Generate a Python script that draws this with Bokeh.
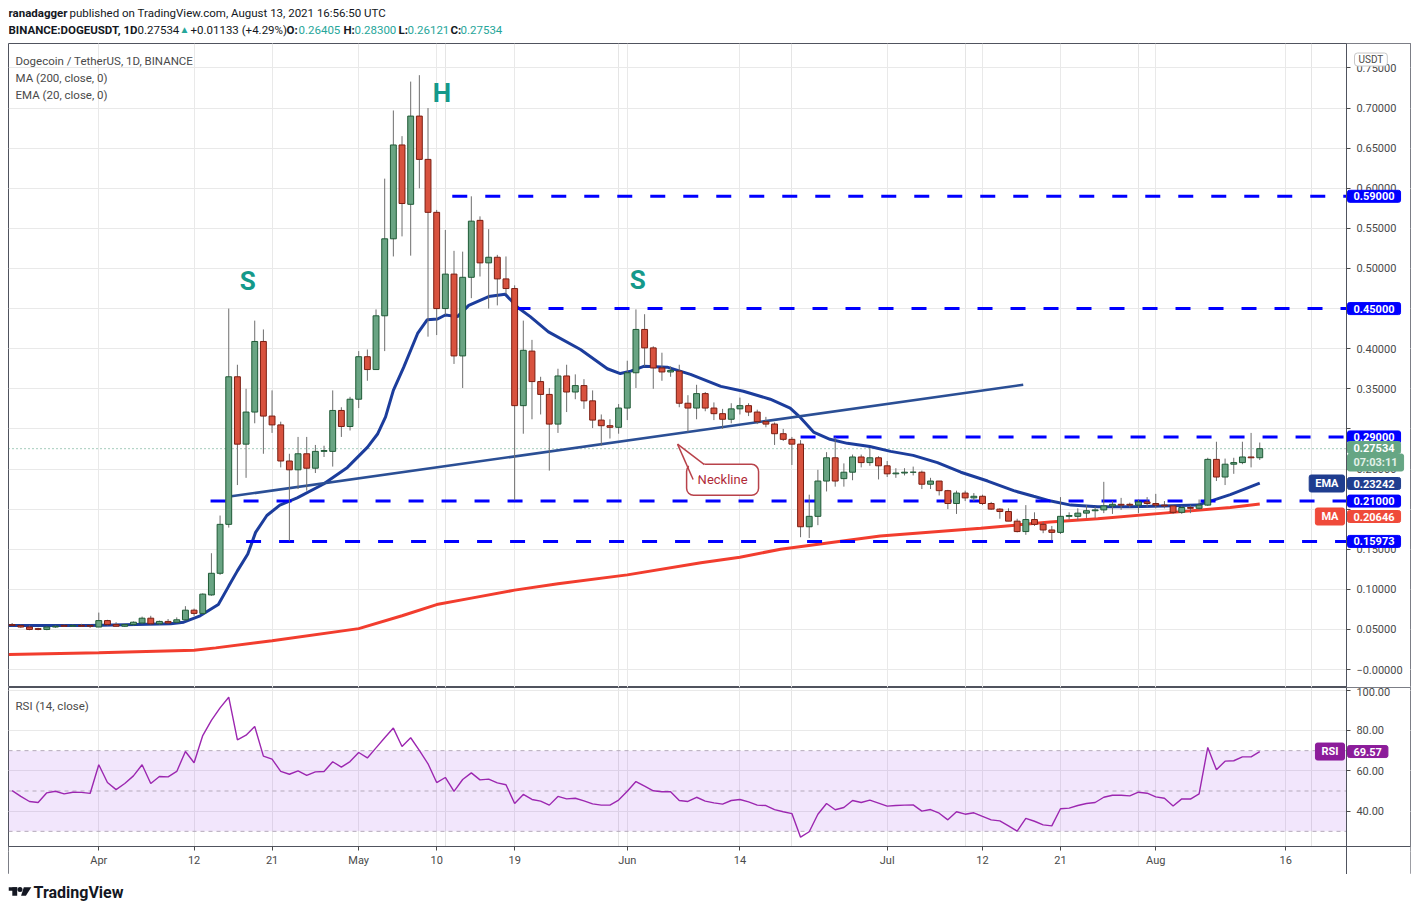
import pandas as pd
from bokeh.plotting import figure
from bokeh.layouts import column
from bokeh.models import (Range1d, FixedTicker, Label, BoxAnnotation, PolyAnnotation,
                          Arrow, ColumnDataSource, Grid, LinearAxis, CustomJSTickFormatter)
from bokeh.embed import file_html
from bokeh.resources import INLINE
from bokeh.core.properties import value

# ---------------- data ----------------
first_date = "2021-03-22"
last_date = "2021-08-13"
ref_date = "2021-04-01"          # day index 0

opens = [
    .056, .055, .053, .051, .050, .053, .055, .054, .055, .055,
    .053, .061, .056, .054, .056, .058, .064, .057, .060, .059,
    .062, .074, .070, .093, .120, .181, .365, .281, .321, .409,
    .316, .305, .260, .249, .269, .251, .272, .272, .323, .303,
    .337, .390, .374, .441, .537, .654, .580, .690, .636, .570,
    .450, .493, .391, .489, .560, .507, .514, .487, .475, .329,
    .397, .359, .343, .306, .366, .346, .354, .335, .311, .304,
    .302, .326, .370, .424, .401, .376, .371, .372, .332, .326,
    .344, .326, .319, .312, .325, .329, .321, .309, .306, .294,
    .287, .281, .178, .191, .235, .264, .238, .246, .265, .258,
    .264, .254, .244, .245, .246, .246, .231, .235, .223, .207,
    .220, .214, .216, .207, .200, .197, .185, .172, .187, .181,
    .174, .171, .191, .191, .195, .198, .199, .204, .206, .206,
    .205, .209, .207, .205, .204, .196, .202, .201, .205, .262,
    .240, .256, .258, .265, .26405]
highs = [
    .058, .056, .055, .052, .054, .055, .056, .056, .057, .056,
    .071, .062, .059, .057, .060, .066, .067, .061, .063, .065,
    .079, .076, .095, .145, .192, .450, .380, .350, .435, .424,
    .348, .309, .269, .290, .290, .280, .279, .348, .327, .340,
    .397, .399, .449, .612, .697, .665, .733, .741, .700, .573,
    .548, .522, .521, .590, .565, .549, .517, .515, .479, .435,
    .411, .365, .351, .375, .380, .368, .362, .348, .318, .312,
    .331, .385, .449, .443, .403, .395, .378, .380, .342, .355,
    .346, .333, .325, .332, .339, .332, .324, .315, .308, .300,
    .290, .286, .218, .249, .271, .290, .257, .268, .268, .276,
    .266, .260, .251, .251, .253, .248, .239, .235, .224, .223,
    .223, .220, .218, .209, .201, .201, .188, .205, .196, .184,
    .179, .215, .196, .201, .205, .203, .234, .210, .214, .208,
    .212, .215, .219, .210, .205, .204, .205, .212, .264, .284,
    .263, .264, .284, .295, .283]
lows = [
    .054, .052, .049, .049, .049, .052, .053, .053, .053, .052,
    .053, .055, .054, .053, .055, .057, .056, .056, .057, .058,
    .061, .067, .069, .092, .118, .177, .230, .239, .307, .269,
    .295, .252, .160, .225, .223, .245, .265, .253, .290, .298,
    .326, .360, .374, .397, .515, .540, .516, .600, .415, .417,
    .442, .381, .351, .463, .490, .450, .454, .468, .211, .294,
    .312, .318, .248, .295, .321, .337, .325, .301, .279, .288,
    .294, .311, .351, .378, .350, .360, .365, .327, .296, .312,
    .322, .311, .300, .307, .318, .316, .306, .302, .280, .285,
    .255, .165, .164, .180, .222, .228, .228, .236, .252, .254,
    .237, .240, .239, .242, .242, .225, .225, .217, .200, .194,
    .210, .210, .205, .199, .188, .185, .171, .168, .179, .170,
    .161, .169, .187, .186, .189, .189, .195, .194, .199, .202,
    .195, .203, .201, .201, .194, .194, .195, .199, .204, .235,
    .230, .244, .256, .252, .26121]
closes = [
    .055, .053, .050, .050, .053, .054, .054, .055, .054, .054,
    .061, .056, .054, .056, .059, .064, .057, .060, .058, .062,
    .074, .070, .094, .120, .181, .365, .281, .321, .409, .316,
    .305, .260, .249, .269, .251, .272, .273, .323, .303, .337,
    .390, .374, .441, .537, .654, .581, .690, .636, .570, .450,
    .493, .391, .489, .559, .507, .514, .487, .475, .329, .398,
    .359, .343, .306, .366, .346, .354, .335, .311, .304, .302,
    .326, .370, .424, .401, .376, .371, .373, .332, .326, .344,
    .326, .319, .312, .325, .329, .321, .309, .306, .294, .287,
    .281, .178, .191, .235, .264, .235, .246, .265, .258, .264,
    .254, .244, .245, .246, .246, .231, .235, .223, .207, .220,
    .214, .216, .207, .200, .197, .185, .172, .187, .181, .174,
    .171, .191, .192, .195, .198, .199, .204, .206, .205, .205,
    .209, .207, .205, .204, .196, .202, .201, .205, .262, .240,
    .256, .258, .265, .264, .27534]
rsi = [
    50.2, 47.3, 44.8, 44.3, 49.1, 49.9, 48.6, 49.4, 49.3, 48.8,
    63.0, 54.2, 50.7, 53.7, 57.5, 63.0, 53.7, 57.2, 57.0, 59.7,
    69.6, 64.0, 77.5, 85.0, 91.2, 96.5, 75.4, 77.7, 82.0, 67.3,
    65.8, 59.7, 58.3, 60.0, 57.7, 59.5, 59.7, 64.5, 61.8, 64.6,
    69.1, 66.4, 71.4, 76.4, 81.2, 72.1, 76.4, 70.1, 63.5, 54.2,
    56.7, 49.8, 55.7, 59.0, 55.5, 55.9, 54.0, 53.1, 43.8, 48.3,
    45.8, 45.0, 43.0, 47.3, 46.1, 46.4, 45.1, 43.6, 43.0, 43.0,
    45.5, 49.9, 54.7, 52.4, 50.1, 49.6, 49.6, 45.3, 44.8, 46.9,
    45.0, 44.1, 43.5, 45.3, 45.8, 44.6, 43.0, 42.8, 40.8, 39.7,
    38.8, 27.1, 29.8, 38.5, 43.8, 40.7, 41.8, 45.3, 44.3, 45.5,
    44.0, 42.5, 42.8, 43.0, 43.1, 40.0, 40.8, 39.0, 35.7, 39.7,
    38.5, 39.2, 37.4, 35.7, 35.2, 32.7, 30.1, 36.4, 35.0, 33.2,
    32.7, 41.2, 41.5, 42.8, 43.8, 44.3, 46.9, 47.9, 47.9, 47.6,
    49.4, 48.9, 47.1, 46.4, 42.6, 46.1, 46.0, 48.6, 71.6, 60.5,
    64.8, 65.0, 66.9, 66.9, 69.57]

ema_day = [-10.4, -1, 8.3, 9.8, 11.7, 13.8, 15, 16, 17.2, 18.1,
           19.4, 20.9, 22.9, 25.9, 28.7, 31, 32.2, 33.1, 34, 35.2,
           36.8, 37.9, 39.1, 40, 41.4, 42.7, 45, 46.9, 48.4, 49.8,
           51.9, 55.6, 58.7, 60.2, 61.4, 62.9, 65.6, 68.3, 71.8, 74.4,
           77.5, 79.8, 81, 82.5, 84.4, 86.4, 89, 91.4, 94, 96.8,
           99.5, 102.6, 105.6, 107.9, 109.9, 112.2, 115.3, 119.1, 122.9, 126.8,
           128.3, 130.6, 134]
ema_val = [.055, .055, .057, .059, .067, .081, .104, .123, .144, .171,
           .192, .205, .214, .231, .252, .277, .294, .315, .348, .377,
           .419, .436, .437, .442, .440, .454, .465, .468, .451, .440,
           .421, .399, .375, .369, .372, .378, .377, .368, .353, .347,
           .337, .326, .314, .296, .287, .282, .278, .272, .267, .258,
           .246, .235, .223, .216, .210, .205, .203, .203, .204, .205,
           .210, .218, .23242]
ma_day = [-10.4, 0, 11, 13.5, 20, 30, 35, 39, 43, 48, 53, 61, 69.5, 74, 78.7,
          90.2, 101.8, 109.8, 115.3, 122.9, 130.6, 134]
ma_val = [.0187, .021, .024, .027, .036, .051, .067, .081, .089, .099, .107, .118, .133, .140, .150,
          .1665, .176, .184, .188, .195, .202, .20646]

level_price = [0.59, 0.45, 0.29, 0.21, 0.15973]
level_start = [40.8, 48.1, 81.0, 12.9, 17.0]
neck_day = [15.3, 106.7]
neck_price = [0.216, 0.355]

pattern_text = ["S", "H", "S"]
pattern_day = [17.2, 39.6, 62.2]
pattern_price = [0.485, 0.719, 0.486]

tick_days = [0, 11, 20, 30, 39, 48, 61, 74, 91, 102, 111, 122, 137]
tick_labels = ["Apr", "12", "21", "May", "10", "19", "Jun", "14", "Jul", "12", "21", "Aug", "16"]
price_ticks = [round(i * 0.05, 2) for i in range(16)]
hidden_price_labels = [0.30, 0.20]     # covered by price tags in the reference
rsi_ticks = [40, 60, 80, 100]
rsi_band = (30, 70)
rsi_levels = [30, 50, 70]

last_price = 0.27534
last_ema = 0.23242
last_ma = 0.20646
last_rsi = 69.57

# ---------------- styling ----------------
FONT = "Roboto"
TXT = "#131722"
AXC = "#4a4a4a"
GRID = "#e9e9e9"
FRAME = "#50535e"
GREEN = "#69a483"; GREEN_E = "#1f5a36"
RED = "#d8523e"; RED_E = "#7b1e12"
WICK = "#6e6e6e"
BLUE = "#0000ff"
EMA_C = "#1c3d9c"
MA_C = "#f23d2e"
NECK_C = "#2b4f95"
TEAL = "#26a69a"
PURPLE = "#9c27b0"

dates = pd.date_range(first_date, last_date, freq="D")
day = list((dates - pd.Timestamp(ref_date)).days)
inc = [c >= o for o, c in zip(opens, closes)]
src = ColumnDataSource(dict(
    x=day, o=opens, h=highs, l=lows, c=closes,
    top=[max(o, c) for o, c in zip(opens, closes)],
    bot=[min(o, c) for o, c in zip(opens, closes)],
    fill=[GREEN if i else RED for i in inc],
    edge=[GREEN_E if i else RED_E for i in inc],
))

# x scale: 8.664 px per day; frame from page x 8 to 1410; price axis at page x 1346
X0, X_AX, X_END = -10.42, 144.0, 151.40
xr = Range1d(X0, X_END)
W = 1412


def style_axis(ax, standoff):
    ax.axis_line_color = FRAME
    ax.major_tick_line_color = AXC
    ax.major_tick_out = 4
    ax.major_tick_in = 0
    ax.minor_tick_out = 0
    ax.minor_tick_in = 0
    ax.major_label_text_font = FONT
    ax.major_label_text_font_size = "11px"
    ax.major_label_text_color = AXC
    ax.major_label_standoff = standoff


def base_fig(height, yr, x_range=xr, outline=FRAME):
    return figure(width=W, height=height, x_range=x_range, y_range=yr, output_backend="svg",
                  toolbar_location=None, x_axis_location=None, y_axis_location=None,
                  min_border_left=8, min_border_right=2, min_border_top=0, min_border_bottom=0,
                  background_fill_color="white", border_fill_color="white",
                  outline_line_color=outline)


# ---------------- header strip (page-pixel coordinates) ----------------
h0 = base_fig(43, Range1d(43, 0), x_range=Range1d(8, 1410), outline=None)
h0.grid.visible = False


def htext(fig, x, y, t, color=TXT, bold=False, size="11.5px"):
    fig.text(x=[x], y=[y], text=[t], text_font=value(FONT), text_font_size=size,
             text_color=color, text_font_style="bold" if bold else "normal",
             text_align="left", text_baseline="middle")


htext(h0, 8, 12, "ranadagger", bold=True)
htext(h0, 69, 12, "published on TradingView.com, August 13, 2021 16:56:50 UTC")
htext(h0, 8, 29, "BINANCE:DOGEUSDT, 1D", bold=True)
htext(h0, 137, 29, "0.27534")
htext(h0, 179, 29, "\u25b2", color=TEAL, size="10px")
htext(h0, 190, 29, "+0.01133 (+4.29%)")
for xp, k, xv, v in [(286, "O:", 298, "0.26405"), (343, "H:", 354, "0.28300"),
                     (398, "L:", 407, "0.26121"), (450, "C:", 460, "0.27534")]:
    htext(h0, xp, 29, k, bold=True)
    htext(h0, xv, 29, v, color=TEAL)

# ---------------- main price panel ----------------
P1_TOP, P1_BOTTOM = 43, 687
p1 = base_fig(P1_BOTTOM - P1_TOP, Range1d(-0.0224, 0.7805))
yax1 = LinearAxis(fixed_location=X_AX, ticker=FixedTicker(ticks=price_ticks),
                  formatter=CustomJSTickFormatter(
                      args=dict(hidden=hidden_price_labels),
                      code="""
                      for (const h of hidden) { if (Math.abs(tick - h) < 1e-9) return ''; }
                      return Math.abs(tick) < 1e-9 ? '\u22120.00000' : tick.toFixed(5);"""))
style_axis(yax1, 6)
p1.add_layout(yax1, "right")
p1.add_layout(Grid(dimension=1, ticker=FixedTicker(ticks=price_ticks), grid_line_color=GRID))
p1.add_layout(Grid(dimension=0, ticker=FixedTicker(ticks=tick_days), grid_line_color=GRID))
p1.add_layout(BoxAnnotation(left=X_AX, fill_color="white", fill_alpha=1, line_alpha=0, level="glyph"))

# last price dotted line
p1.segment(x0=[X0], y0=[last_price], x1=[X_AX], y1=[last_price], line_color="#4c9a7a",
           line_dash="1 3", line_width=1)

# MA / EMA / neckline
p1.line(ma_day, ma_val, line_color=MA_C, line_width=3)
p1.line(ema_day, ema_val, line_color=EMA_C, line_width=3)
p1.line(neck_day, neck_price, line_color=NECK_C, line_width=2.6)

# support / resistance levels
p1.segment(x0=level_start, y0=level_price, x1=[X_AX] * len(level_price), y1=level_price,
           line_color=BLUE, line_width=3, line_dash="15 18")

# candles
p1.segment(x0="x", y0="h", x1="x", y1="l", source=src, line_color=WICK, line_width=1)
p1.vbar(x="x", top="top", bottom="bot", width=0.68, source=src,
        fill_color="fill", line_color="edge", line_width=1)

# S-H-S letters
p1.text(x=pattern_day, y=pattern_price, text=pattern_text, text_font=value(FONT),
        text_font_size="26px", text_font_style="bold", text_color="#14998a",
        text_align="center", text_baseline="middle")

# neckline callout
NC = "#b8424a"
p1.add_layout(Label(x=72.0, y=0.2365, text="Neckline", text_font=FONT, text_font_size="13px",
                    text_color="#b02a37", text_align="center", text_baseline="middle",
                    background_fill_color="white", border_line_color=NC, border_line_width=1.5,
                    padding=(11, 8), border_radius=7))
tip = (66.8, 0.281)
b1 = (69.9, 0.2555)
b2 = (68.6, 0.2370)
p1.add_layout(PolyAnnotation(xs=[tip[0], b1[0] + 0.3, b2[0] + 0.3], ys=[tip[1], b1[1] - 0.002, b2[1]],
                             fill_color="white", fill_alpha=1, line_alpha=0))
p1.add_layout(Arrow(end=None, x_start=tip[0], y_start=tip[1], x_end=b1[0], y_end=b1[1],
                    line_color=NC, line_width=1.5))
p1.add_layout(Arrow(end=None, x_start=tip[0], y_start=tip[1], x_end=b2[0], y_end=b2[1],
                    line_color=NC, line_width=1.5))


def lab(fig, bottom, xp, yp, text, size="11.5px", color=TXT, bold=False, align="left", **kw):
    fig.add_layout(Label(x=xp - 8, y=bottom - yp, x_units="screen", y_units="screen", text=text,
                         text_font=FONT, text_font_size=size, text_color=color,
                         text_font_style="bold" if bold else "normal", text_align=align,
                         text_baseline="middle", **kw))


lab(p1, P1_BOTTOM, 15, 60, "Dogecoin / TetherUS, 1D, BINANCE", color=AXC)
lab(p1, P1_BOTTOM, 15, 77, "MA (200, close, 0)", color=AXC)
lab(p1, P1_BOTTOM, 15, 94, "EMA (20, close, 0)", color=AXC)
lab(p1, P1_BOTTOM, 1354, 59, "USDT", size="10px", color=AXC,
    background_fill_color="white", border_line_color="#c8c8c8", padding=(4, 1), border_radius=3)


def tag(fig, y, text, bg, xp=1347, color="white", align="left", yunits="data"):
    fig.add_layout(Label(x=xp - 8, y=y, x_units="screen", y_units=yunits, text=text,
                         text_font=FONT, text_font_size="11px", text_font_style="bold",
                         text_color=color, text_align=align, text_baseline="middle",
                         background_fill_color=bg, border_line_color=bg,
                         padding=(6, 2), border_radius=2))


for lp in level_price:
    tag(p1, lp, f"{lp:.5f}", BLUE)
tag(p1, P1_BOTTOM - 447, f"{last_price:.5f}", "#66a684", yunits="screen")
tag(p1, P1_BOTTOM - 462, "07:03:11", "#66a684", color="#e2f1e8", yunits="screen")
tag(p1, P1_BOTTOM - 483, f"{last_ema:.5f}", "#1f3d8f", yunits="screen")
tag(p1, P1_BOTTOM - 483, "EMA", "#1f3d8f", xp=1344, align="right", yunits="screen")
tag(p1, P1_BOTTOM - 516, f"{last_ma:.5f}", "#ef4a3a", yunits="screen")
tag(p1, P1_BOTTOM - 516, "MA", "#ef4a3a", xp=1344, align="right", yunits="screen")

# ---------------- RSI panel (with the date axis row inside its frame) ----------------
P2_BOTTOM = 874
RSI_AX = 22.48   # value at page y 846 (bottom of RSI pane)
p2 = base_fig(P2_BOTTOM - P1_BOTTOM, Range1d(8.60, 101.32))
p2.add_layout(Grid(dimension=1, ticker=FixedTicker(ticks=rsi_ticks), grid_line_color=GRID))
p2.add_layout(Grid(dimension=0, ticker=FixedTicker(ticks=tick_days), grid_line_color=GRID))
p2.add_layout(BoxAnnotation(bottom=rsi_band[0], top=rsi_band[1], right=X_AX, fill_color="#7d05e1",
                            fill_alpha=0.1, line_alpha=0, level="underlay"))
p2.segment(x0=[X0] * 3, y0=rsi_levels, x1=[X_AX] * 3, y1=rsi_levels, line_color="#b4a9ba",
           line_dash="4 4", line_width=1)
p2.line(day, rsi, line_color=PURPLE, line_width=1.4)
p2.add_layout(BoxAnnotation(left=X_AX, fill_color="white", fill_alpha=1, line_alpha=0, level="glyph"))
p2.add_layout(BoxAnnotation(top=RSI_AX, fill_color="white", fill_alpha=1, line_alpha=0, level="glyph"))

xax2 = LinearAxis(fixed_location=RSI_AX, ticker=FixedTicker(ticks=tick_days),
                  major_label_overrides={d: t for d, t in zip(tick_days, tick_labels)})
style_axis(xax2, 3)
p2.add_layout(xax2, "below")
yax2 = LinearAxis(fixed_location=X_AX, ticker=FixedTicker(ticks=rsi_ticks),
                  formatter=CustomJSTickFormatter(code="return tick.toFixed(2);"))
style_axis(yax2, 6)
p2.add_layout(yax2, "right")

lab(p2, P2_BOTTOM, 15, 705, "RSI (14, close)", color=AXC)
tag(p2, last_rsi, f"{last_rsi:.2f}", "#8c1c9a")
tag(p2, last_rsi, "RSI", "#8c1c9a", xp=1344, align="right")

# ---------------- footer (page-pixel coordinates, y measured from 874) ----------------
f0 = base_fig(911 - P2_BOTTOM, Range1d(911 - P2_BOTTOM, 0), x_range=Range1d(8, 1410), outline=None)
f0.grid.visible = False
LOGO = "#131722"
f0.quad(left=[8, 11.8], right=[16.7, 16.7], top=[12.7, 12.7], bottom=[16.2, 21.2],
        fill_color=LOGO, line_alpha=0)
f0.scatter(x=[19.5], y=[15], size=5, marker="circle", fill_color=LOGO, line_alpha=0)
f0.patch(x=[23.3, 30.8, 25.4, 20.6], y=[12.7, 12.7, 21.2, 21.2], fill_color=LOGO, line_alpha=0)
htext(f0, 33, 18, "TradingView", bold=True, size="16px")

layout = column(h0, p1, p2, f0)
open("out.html", "w").write(file_html(layout, INLINE))
